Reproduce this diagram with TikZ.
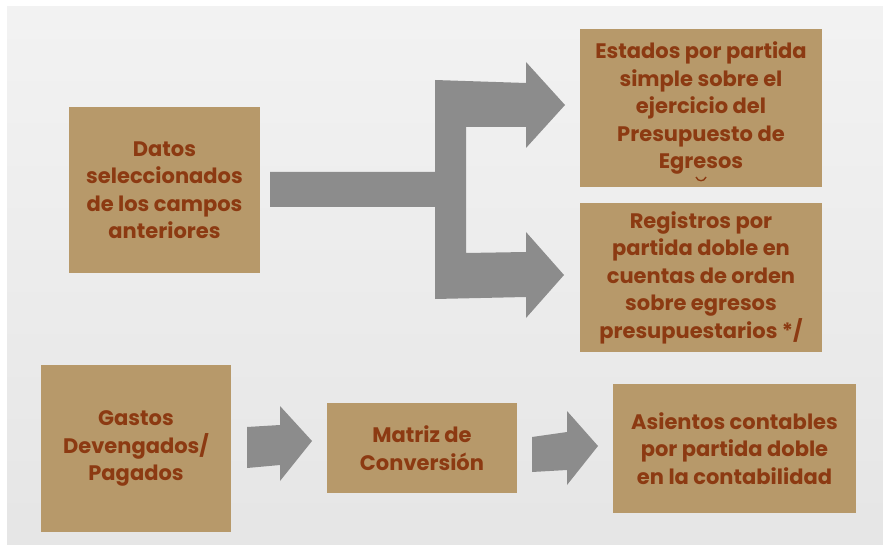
\documentclass[tikz,border=0pt]{standalone}
\usepackage{fontspec}
\setmainfont{Poppins}
\definecolor{boxfill}{RGB}{183,153,106}
\definecolor{txtc}{RGB}{140,58,18}
\definecolor{arrc}{RGB}{140,140,140}
\begin{document}
\begin{tikzpicture}[x=1pt,y=-1pt,
  box/.style={fill=boxfill, text=txtc, font=\fontsize{21}{27.5}\selectfont\bfseries,
    align=center, inner sep=0pt},
  blockarrow/.style={fill=arrc, draw=none}]
\useasboundingbox (0,0) rectangle (883,545);
\fill[white] (0,0) rectangle (883,545);
\shade[top color=black!5, bottom color=black!10] (7,7) rectangle (883,545);

\node[box, minimum width=191pt, minimum height=166pt] (datos) at (164.5,190)
  {Datos\\seleccionados\\de los campos\\anteriores};
\node[box, minimum width=242pt, minimum height=158pt] (estados) at (701,108)
  {Estados por partida\\simple sobre el\\ejercicio del\\Presupuesto de\\Egresos};
\node[box, minimum width=242pt, minimum height=149pt] (registros) at (701,277.5)
  {Registros por\\partida doble en\\cuentas de orden\\sobre egresos\\presupuestarios */};
\node[box, minimum width=190pt, minimum height=167pt] (gastos) at (136,448.5)
  {Gastos\\Devengados/\\Pagados};
\node[box, minimum width=190pt, minimum height=90pt] (matriz) at (422,448)
  {Matriz de\\Conversión};
\node[box, minimum width=243pt, minimum height=129pt] (asientos) at (734.5,448.5)
  {Asientos contables\\por partida doble\\en la contabilidad};

\draw[txtc, line width=1.4pt] (696,177) .. controls (698,182) and (704,182) .. (706,177);

% branching arrow
\fill[blockarrow] (270,172) -- (435,172) -- (435,80) -- (526,83) -- (526,62) -- (565,105)
  -- (526,148) -- (526,127) -- (466,127) -- (466,253) -- (526,252) -- (526,232)
  -- (564,275) -- (526,318) -- (526,297) -- (435,299) -- (435,207) -- (270,207) -- cycle;

% small arrows
\fill[blockarrow] (247,427) -- (280,425) -- (280,406) -- (312,441) -- (280,481)
  -- (280,465) -- (247,468) -- cycle;
\fill[blockarrow] (532,437) -- (567,432) -- (567,411) -- (598,446) -- (567,485)
  -- (567,470) -- (532,472) -- cycle;
\end{tikzpicture}
\end{document}
